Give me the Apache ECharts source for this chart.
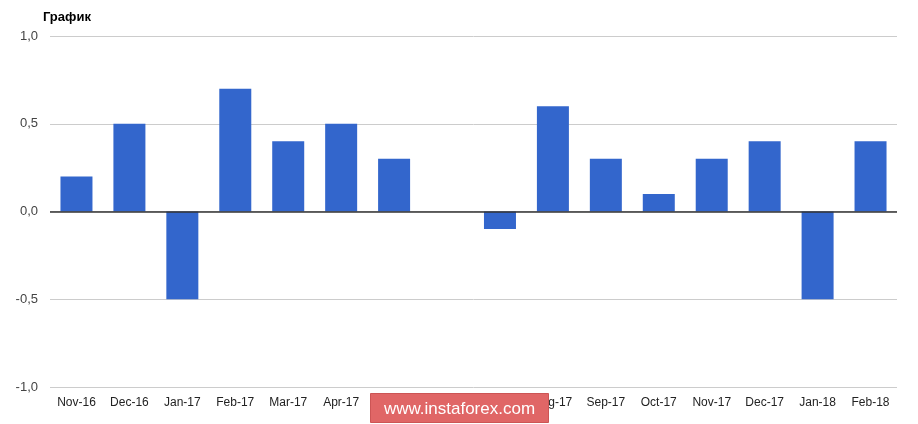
<!DOCTYPE html>
<html><head><meta charset="utf-8">
<script src="https://cdn.jsdelivr.net/npm/echarts@6/dist/echarts.min.js"></script>
<style>html,body{margin:0;padding:0;background:#fff}#c{width:918px;height:424px}</style>
</head><body><div id="c"></div>
<script>
var categories = ['Nov-16','Dec-16','Jan-17','Feb-17','Mar-17','Apr-17','May-17','Jun-17','Jul-17','Aug-17','Sep-17','Oct-17','Nov-17','Dec-17','Jan-18','Feb-18'];
var values = [0.2,0.5,-0.5,0.7,0.4,0.5,0.3,0,-0.1,0.6,0.3,0.1,0.3,0.4,-0.5,0.4];
var titleText = 'График';
var watermark = 'www.instaforex.com';

var chart = echarts.init(document.getElementById('c'));
chart.setOption({
  animation: false,
  title: {text: titleText, left: 38, top: 6, textStyle: {fontFamily: 'Liberation Sans', fontSize: 13, fontWeight: 'bold', color: '#000'}},
  grid: {left: 50, right: 21, top: 36, bottom: 37},
  xAxis: {
    type: 'category', data: categories,
    axisLine: {show: false}, axisTick: {show: false},
    axisLabel: {color: '#222', fontFamily: 'Liberation Sans', fontSize: 12, margin: 10}
  },
  yAxis: {
    type: 'value', min: -1, max: 1, interval: 0.5,
    axisLabel: {color: '#444', fontFamily: 'Liberation Sans', fontSize: 13, margin: 12,
      formatter: function(v){ return v.toFixed(1).replace('.', ','); }},
    splitLine: {lineStyle: {color: '#cccccc'}},
    axisLine: {show: false}, axisTick: {show: false}
  },
  series: [{
    type: 'bar', data: values, barWidth: 32,
    itemStyle: {color: '#3366cc'},
    markLine: {silent: true, symbol: 'none', label: {show: false},
      lineStyle: {color: '#333', width: 1.5, type: 'solid'}, data: [{yAxis: 0}]}
  }],
  graphic: [{
    type: 'group', left: 370, top: 393, z: 1000, zlevel: 1,
    children: [
      {type: 'rect', z: 1000, shape: {x: 0, y: 0, width: 178, height: 29}, style: {fill: '#e06666', stroke: '#cc5555'}},
      {type: 'text', z: 1001, style: {x: 89, y: 16, text: watermark, fill: '#fff', font: '17px "Liberation Sans"', textAlign: 'center', textVerticalAlign: 'middle'}}
    ]
  }]
});
</script></body></html>
